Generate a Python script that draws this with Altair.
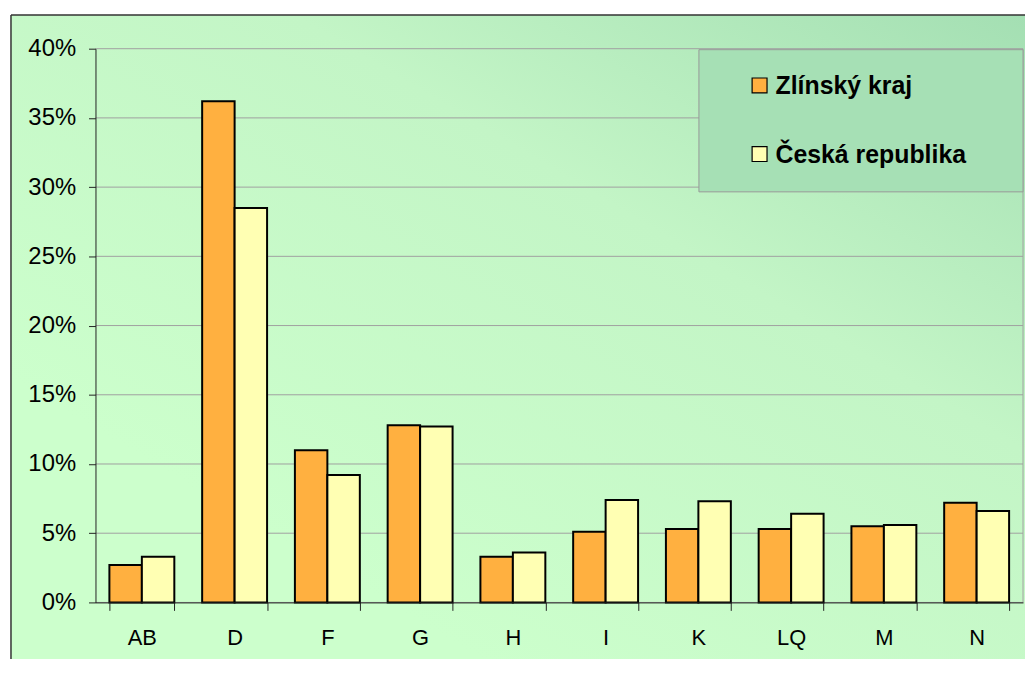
import altair as alt
import pandas as pd

CATEGORIES = ["AB", "D", "F", "G", "H", "I", "K", "LQ", "M", "N"]
SERIES = ["Zlínský kraj", "Česká republika"]
ZLIN = [2.7, 36.2, 11.0, 12.8, 3.3, 5.1, 5.3, 5.3, 5.5, 7.2]
CR = [3.3, 28.5, 9.2, 12.7, 3.6, 7.4, 7.3, 6.4, 5.6, 6.6]
Y_TICKS = [0, 0.05, 0.10, 0.15, 0.20, 0.25, 0.30, 0.35, 0.40]
COLORS = ["#ffb040", "#ffffb3"]

FONT = "Liberation Sans"
W, H = 933, 557

rows = []
for c, a, b in zip(CATEGORIES, ZLIN, CR):
    rows.append({"cat": c, "series": SERIES[0], "v": a / 100})
    rows.append({"cat": c, "series": SERIES[1], "v": b / 100})
df = pd.DataFrame(rows)
grid_df = pd.DataFrame({"v": Y_TICKS})
one = pd.DataFrame({"a": [0]})

yscale = alt.Scale(domain=[0, 0.40], nice=False, zero=True)
yaxis = alt.Axis(values=Y_TICKS, format=".0%", grid=False, tickSize=7, labelPadding=13,
                 labelFontSize=24, labelFont=FONT, labelColor="black", domainColor="#222",
                 tickColor="#222", title=None, zindex=1)
cscale = alt.Scale(domain=SERIES, range=COLORS)

bg = alt.Chart(one).mark_rect(
    fill={"gradient": "linear", "x1": 0.25, "y1": 0.8, "x2": 1, "y2": 0,
          "stops": [{"offset": 0, "color": "#ccffcc"},
                    {"offset": 0.55, "color": "#c3f5c6"},
                    {"offset": 1, "color": "#a4dfb3"}]}
).encode(x=alt.value(-85), x2=alt.value(935), y=alt.value(-34), y2=alt.value(614))

grid = alt.Chart(grid_df).mark_rule(color="#a0a0a0", strokeWidth=1).encode(
    y=alt.Y("v:Q", scale=yscale, axis=yaxis),
    x=alt.value(0), x2=alt.value(W))

right_edge = alt.Chart(one).mark_rule(color="#a0a0a0", strokeWidth=1).encode(
    x=alt.value(W), y=alt.value(0), y2=alt.value(H))

bars = alt.Chart(df).mark_bar(stroke="black", strokeWidth=2).encode(
    x=alt.X("cat:N", sort=CATEGORIES,
            scale=alt.Scale(paddingInner=0.3, paddingOuter=0.15),
            axis=alt.Axis(title=None, labelAngle=0, tickBand="extent", tickSize=8,
                          labelPadding=17, labelFontSize=22, labelFont=FONT,
                          labelColor="black", domainColor="#222", tickColor="#222",
                          grid=False, zindex=1)),
    xOffset=alt.XOffset("series:N", sort=SERIES,
                        scale=alt.Scale(paddingInner=0, paddingOuter=0)),
    y=alt.Y("v:Q", scale=yscale, axis=yaxis),
    color=alt.Color("series:N", scale=cscale, legend=None),
)

leg_box = alt.Chart(one).mark_rect(fill="#a6e0b5", stroke="#999999", strokeWidth=1).encode(
    x=alt.value(607), x2=alt.value(933), y=alt.value(1), y2=alt.value(144))

legend_layers = []
for s, ly in zip(SERIES, [37, 106]):
    d = pd.DataFrame({"series": [s]})
    legend_layers.append(
        alt.Chart(d).mark_square(size=225, stroke="black", strokeWidth=1.2, opacity=1).encode(
            x=alt.value(668), y=alt.value(ly),
            color=alt.Color("series:N", scale=cscale, legend=None)))
    legend_layers.append(
        alt.Chart(d).mark_text(align="left", baseline="middle", fontSize=25, fontWeight="bold",
                               font=FONT, color="black").encode(
            x=alt.value(684), y=alt.value(ly + 1), text="series:N"))

border_left = alt.Chart(one).mark_rule(color="#333333", strokeWidth=1.5).encode(
    x=alt.value(-85), y=alt.value(-34), y2=alt.value(614))
border_top = alt.Chart(one).mark_rule(color="#333333", strokeWidth=1.5).encode(
    x=alt.value(-85), x2=alt.value(935), y=alt.value(-34))

chart = alt.layer(bg, grid, right_edge, bars, leg_box, *legend_layers, border_left, border_top).properties(
    width=W, height=H,
    padding={"left": 2, "top": 4, "right": 0, "bottom": 0},
).configure_view(stroke=None).configure_axisY(labelFontSize=24, labelFont=FONT)

chart.save("out.html", embed_options={"renderer": "svg", "actions": False})
